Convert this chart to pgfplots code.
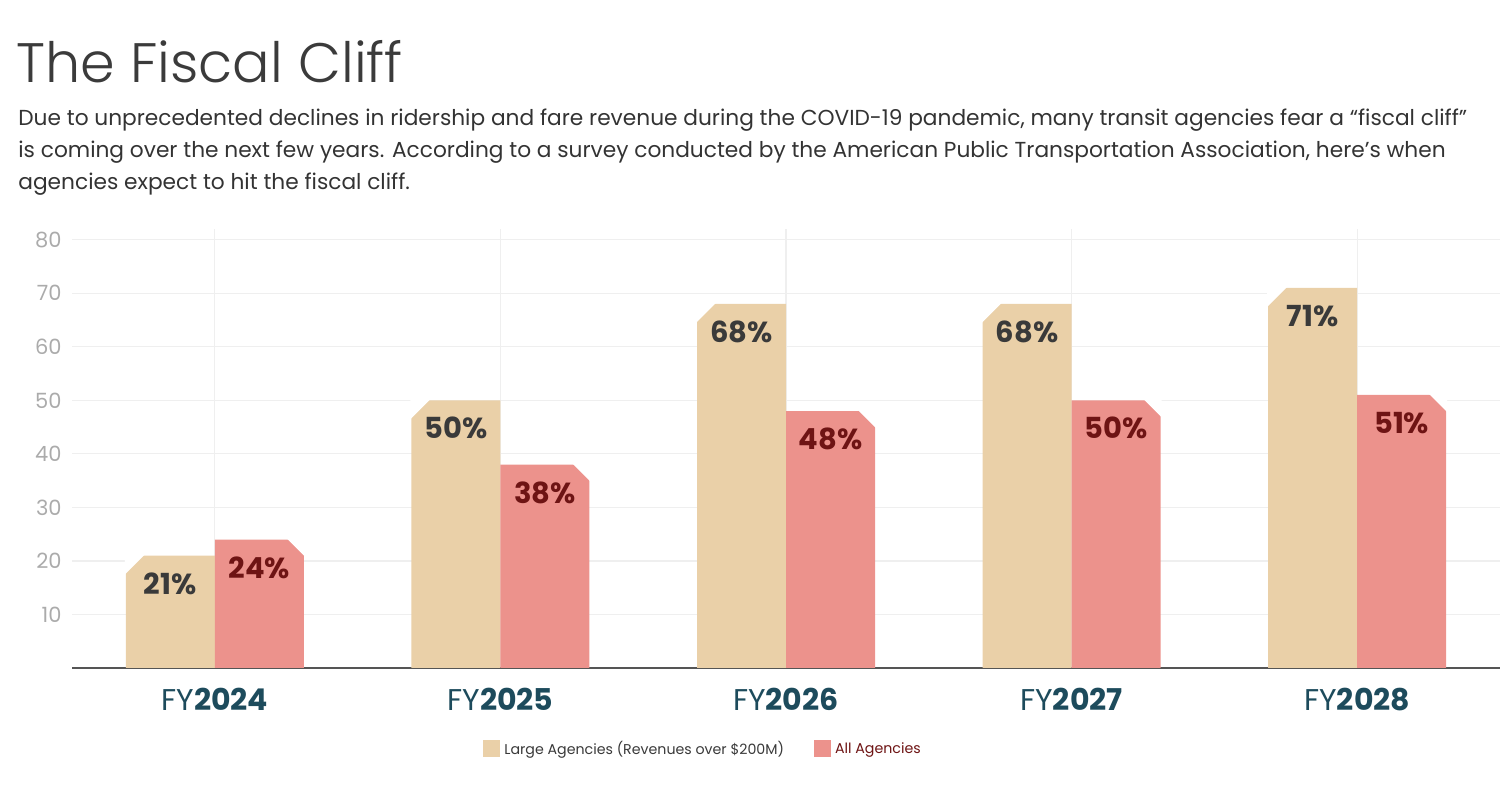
\documentclass[border=0pt]{standalone}
\usepackage{fontspec}
\setmainfont{Poppins}
\newfontfamily\lightfont{Poppins Light}
\usepackage{pgfplots}
\usepackage{pgfplotstable}
\pgfplotsset{compat=1.18}
\definecolor{tanc}{HTML}{EAD0A8}
\definecolor{redc}{HTML}{EC928C}
\definecolor{labdark}{HTML}{3A3A3A}
\definecolor{labred}{HTML}{6E1414}
\definecolor{teal}{HTML}{1D4B5C}
\definecolor{tickc}{HTML}{ABABAB}
\definecolor{gridc}{HTML}{EFEFEF}
\definecolor{axc}{HTML}{555555}
\definecolor{titc}{HTML}{3B3B3B}
\definecolor{subc}{HTML}{333333}
\pgfdeclareplotmark{cutleft}{%
  \pgfpathmoveto{\pgfpoint{-45pt}{0.6pt}}%
  \pgfpathlineto{\pgfpoint{-34.9pt}{0.6pt}}%
  \pgfpathlineto{\pgfpoint{-45pt}{-9.5pt}}%
  \pgfpathclose\pgfusepathqfill}
\pgfdeclareplotmark{cutright}{%
  \pgfpathmoveto{\pgfpoint{35.9pt}{0.6pt}}%
  \pgfpathlineto{\pgfpoint{45pt}{0.6pt}}%
  \pgfpathlineto{\pgfpoint{45pt}{-8.5pt}}%
  \pgfpathclose\pgfusepathqfill}
\pgfplotstableread{
x tan red
0 21 24
1 50 38
2 68 48
3 68 50
4 71 51
}\data
\begin{document}
\begin{tikzpicture}
\useasboundingbox (0,0) rectangle (750pt,395pt);
\node[anchor=base west, inner sep=0, text=titc, font=\lightfont\fontsize{27.8}{30}\selectfont] at (8pt,353.5pt) {The Fiscal Cliff};
\node[anchor=base west, inner sep=0, text=subc, font=\fontsize{10.85}{13}\selectfont] at (9pt,332.2pt) {Due to unprecedented declines in ridership and fare revenue during the COVID-19 pandemic, many transit agencies fear a “fiscal cliff”};
\node[anchor=base west, inner sep=0, text=subc, font=\fontsize{10.85}{13}\selectfont] at (9pt,316.2pt) {is coming over the next few years. According to a survey conducted by the American Public Transportation Association, here’s when};
\node[anchor=base west, inner sep=0, text=subc, font=\fontsize{10.85}{13}\selectfont] at (9pt,300.4pt) {agencies expect to hit the fiscal cliff.};
\begin{axis}[
  at={(36pt,61pt)}, anchor=south west,
  scale only axis, width=714pt, height=219.5pt,
  xmin=-0.5, xmax=4.5, ymin=0, ymax=82,
  axis x line*=bottom, axis y line*=left,
  y axis line style={draw=none},
  x axis line style={draw=axc, line width=1pt},
  tick style={draw=none},
  ytick={10,20,...,80},
  xtick={0,...,4},
  xticklabels={FY\textbf{2024},FY\textbf{2025},FY\textbf{2026},FY\textbf{2027},FY\textbf{2028}},
  /pgf/number format/assume math mode=true,
  yticklabel style={font=\fontsize{10.5}{12}\selectfont, text=tickc, anchor=east, inner sep=0pt, xshift=-5pt},
  xticklabel style={font=\fontsize{15}{17}\selectfont, text=teal, anchor=base, inner sep=0pt, yshift=-21.5pt},
  ymajorgrids, xmajorgrids,
  grid style={draw=gridc, line width=0.6pt},
  legend style={at={(0.2878,-0.1845)}, anchor=west, draw=none, inner sep=0pt,
    legend columns=2, font=\fontsize{7.1}{9}\selectfont, text=labdark,
    /tikz/every even column/.append style={column sep=13pt},
    cells={anchor=west}},
  legend image code/.code={\fill[#1] (0pt,-4.25pt) rectangle (8.5pt,4.25pt);},
]
\addlegendimage{fill=tanc, draw=none}
\addlegendentry{\strut Large Agencies (Revenues over \$200M)}
\addlegendimage{fill=redc, draw=none}
\addlegendentry{\strut\textcolor{labred}{All Agencies}}
\addplot[ybar, bar width=44.5pt, bar shift=-22.25pt, fill=tanc, draw=none,
  nodes near coords={\pgfmathprintnumber{\pgfplotspointmeta}\%},
  every node near coord/.append style={anchor=center, xshift=-22.25pt, yshift=-14pt, text=labdark, font=\bfseries\fontsize{14.5}{16}\selectfont}]
  table[x=x, y=tan] {\data};
\addplot[ybar, bar width=44.5pt, bar shift=22.25pt, fill=redc, draw=none,
  nodes near coords={\pgfmathprintnumber{\pgfplotspointmeta}\%},
  every node near coord/.append style={anchor=center, xshift=22.25pt, yshift=-14pt, text=labred, font=\bfseries\fontsize{14.5}{16}\selectfont}]
  table[x=x, y=red] {\data};
\addplot[forget plot, only marks, mark=cutleft, color=white, mark options={fill=white, draw=none}]
  table[x=x, y=tan] {\data};
\addplot[forget plot, only marks, mark=cutright, color=white, mark options={fill=white, draw=none}]
  table[x=x, y=red] {\data};
\end{axis}
\end{tikzpicture}
\end{document}
